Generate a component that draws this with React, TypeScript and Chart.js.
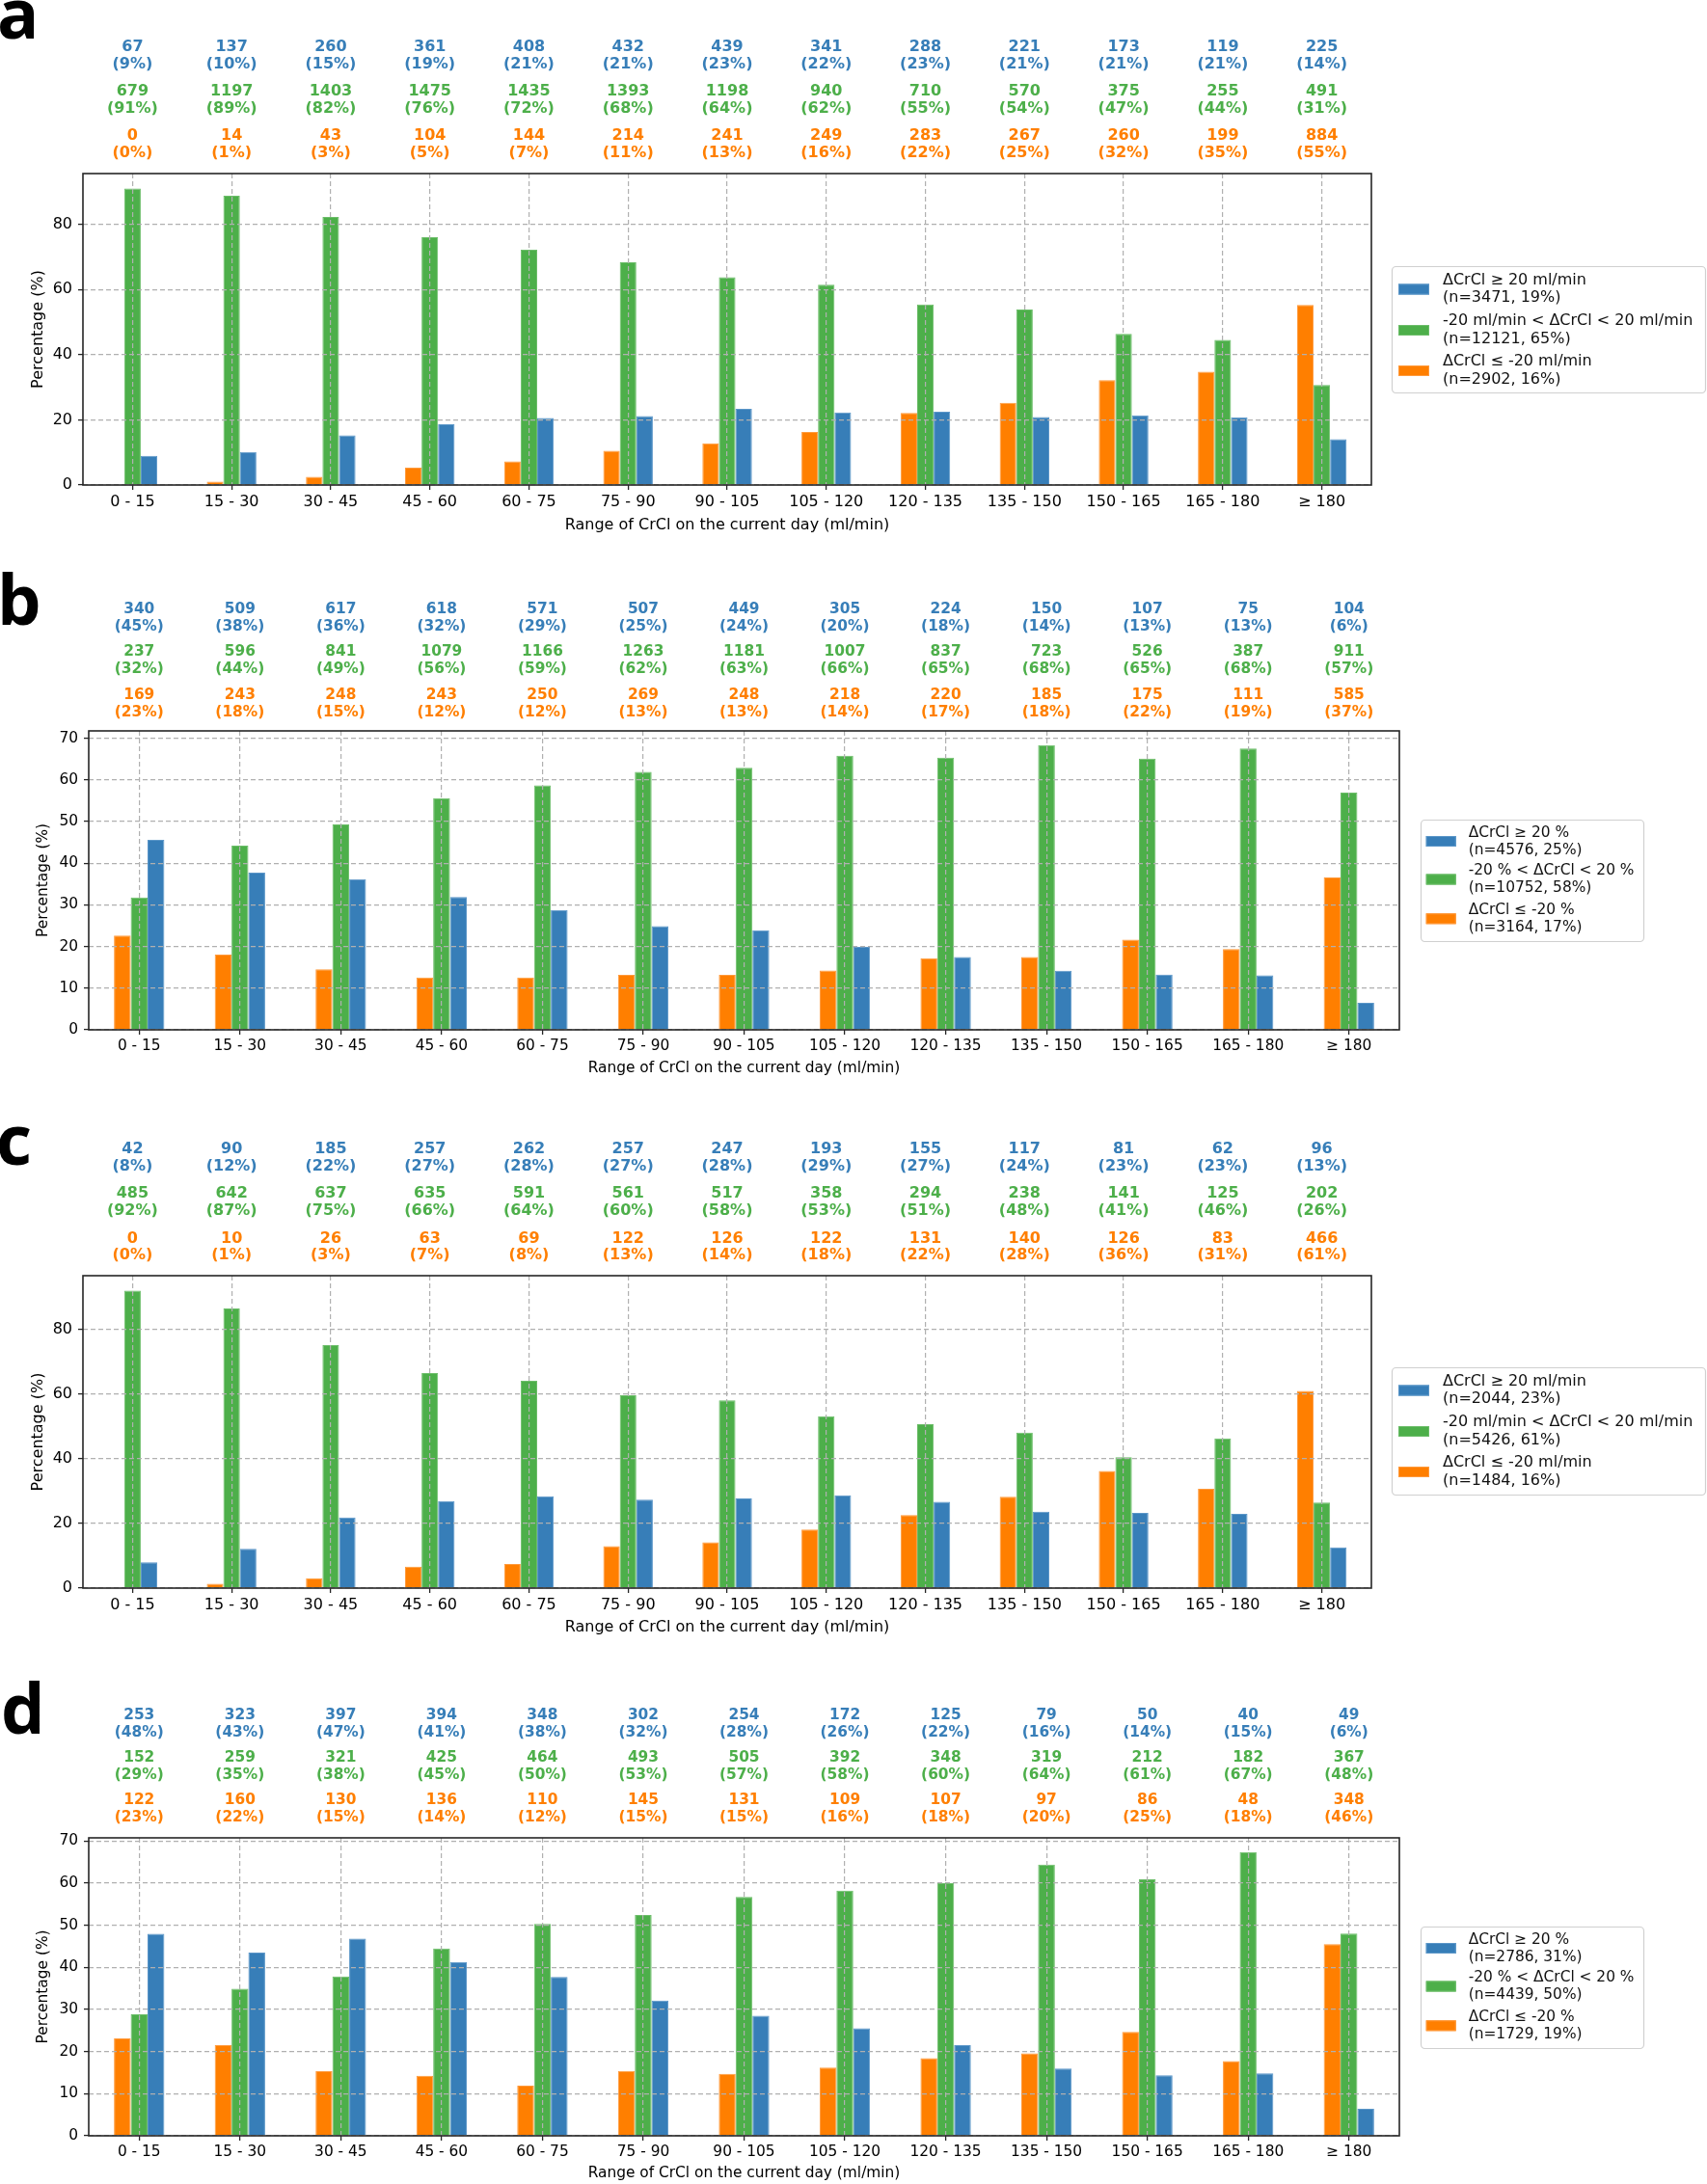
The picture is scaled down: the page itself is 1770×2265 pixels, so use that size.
import React, { useEffect, useRef } from 'react';
import { Chart, registerables } from 'chart.js';

Chart.register(...registerables);
Chart.defaults.font.family = '"DejaVu Sans"';

// ---------------- data ----------------
const categories = ['0 - 15', '15 - 30', '30 - 45', '45 - 60', '60 - 75', '75 - 90', '90 - 105', '105 - 120', '120 - 135', '135 - 150', '150 - 165', '165 - 180', '≥ 180'];

const xAxisTitle = 'Range of CrCl on the current day (ml/min)';
const yAxisTitle = 'Percentage (%)';

// Panel a
const aUpCounts = [67, 137, 260, 361, 408, 432, 439, 341, 288, 221, 173, 119, 225];
const aUpPct = [9, 10, 15, 19, 21, 21, 23, 22, 23, 21, 21, 21, 14];
const aUpValues = [8.98, 10.16, 15.24, 18.61, 20.53, 21.19, 23.38, 22.29, 22.48, 20.89, 21.41, 20.77, 14.06];
const aStableCounts = [679, 1197, 1403, 1475, 1435, 1393, 1198, 940, 710, 570, 375, 255, 491];
const aStablePct = [91, 89, 82, 76, 72, 68, 64, 62, 55, 54, 47, 44, 31];
const aStableValues = [91.02, 88.8, 82.24, 76.03, 72.22, 68.32, 63.79, 61.44, 55.43, 53.88, 46.41, 44.5, 30.69];
const aDownCounts = [0, 14, 43, 104, 144, 214, 241, 249, 283, 267, 260, 199, 884];
const aDownPct = [0, 1, 3, 5, 7, 11, 13, 16, 22, 25, 32, 35, 55];
const aDownValues = [0, 1.04, 2.52, 5.36, 7.25, 10.5, 12.83, 16.27, 22.09, 25.24, 32.18, 34.73, 55.25];
const aLegend = [['ΔCrCl ≥ 20 ml/min', '(n=3471, 19%)'], ['-20 ml/min < ΔCrCl < 20 ml/min', '(n=12121, 65%)'], ['ΔCrCl ≤ -20 ml/min', '(n=2902, 16%)']];
const aYMax = 95.57;
const aYStep = 20;

// Panel b
const bUpCounts = [340, 509, 617, 618, 571, 507, 449, 305, 224, 150, 107, 75, 104];
const bUpPct = [45, 38, 36, 32, 29, 25, 24, 20, 18, 14, 13, 13, 6];
const bUpValues = [45.58, 37.76, 36.17, 31.86, 28.74, 24.87, 23.91, 19.93, 17.49, 14.18, 13.24, 13.09, 6.5];
const bStableCounts = [237, 596, 841, 1079, 1166, 1263, 1181, 1007, 837, 723, 526, 387, 911];
const bStablePct = [32, 44, 49, 56, 59, 62, 63, 66, 65, 68, 65, 68, 57];
const bStableValues = [31.77, 44.21, 49.3, 55.62, 58.68, 61.94, 62.89, 65.82, 65.34, 68.34, 65.1, 67.54, 56.94];
const bDownCounts = [169, 243, 248, 243, 250, 269, 248, 218, 220, 185, 175, 111, 585];
const bDownPct = [23, 18, 15, 12, 12, 13, 13, 14, 17, 18, 22, 19, 37];
const bDownValues = [22.65, 18.03, 14.54, 12.53, 12.58, 13.19, 13.21, 14.25, 17.17, 17.49, 21.66, 19.37, 36.56];
const bLegend = [['ΔCrCl ≥ 20 %', '(n=4576, 25%)'], ['-20 % < ΔCrCl < 20 %', '(n=10752, 58%)'], ['ΔCrCl ≤ -20 %', '(n=3164, 17%)']];
const bYMax = 71.76;
const bYStep = 10;

// Panel c
const cUpCounts = [42, 90, 185, 257, 262, 257, 247, 193, 155, 117, 81, 62, 96];
const cUpPct = [8, 12, 22, 27, 28, 27, 28, 29, 27, 24, 23, 23, 13];
const cUpValues = [7.97, 12.13, 21.82, 26.91, 28.42, 27.34, 27.75, 28.68, 26.72, 23.64, 23.28, 22.96, 12.57];
const cStableCounts = [485, 642, 637, 635, 591, 561, 517, 358, 294, 238, 141, 125, 202];
const cStablePct = [92, 87, 75, 66, 64, 60, 58, 53, 51, 48, 41, 46, 26];
const cStableValues = [92.03, 86.52, 75.12, 66.49, 64.1, 59.68, 58.09, 53.19, 50.69, 48.08, 40.52, 46.3, 26.44];
const cDownCounts = [0, 10, 26, 63, 69, 122, 126, 122, 131, 140, 126, 83, 466];
const cDownPct = [0, 1, 3, 7, 8, 13, 14, 18, 22, 28, 36, 31, 61];
const cDownValues = [0, 1.35, 3.07, 6.6, 7.48, 12.98, 14.16, 18.13, 22.59, 28.28, 36.21, 30.74, 60.99];
const cLegend = [['ΔCrCl ≥ 20 ml/min', '(n=2044, 23%)'], ['-20 ml/min < ΔCrCl < 20 ml/min', '(n=5426, 61%)'], ['ΔCrCl ≤ -20 ml/min', '(n=1484, 16%)']];
const cYMax = 96.63;
const cYStep = 20;

// Panel d
const dUpCounts = [253, 323, 397, 394, 348, 302, 254, 172, 125, 79, 50, 40, 49];
const dUpPct = [48, 43, 47, 41, 38, 32, 28, 26, 22, 16, 14, 15, 6];
const dUpValues = [48.01, 43.53, 46.82, 41.26, 37.74, 32.13, 28.54, 25.56, 21.55, 15.96, 14.37, 14.81, 6.41];
const dStableCounts = [152, 259, 321, 425, 464, 493, 505, 392, 348, 319, 212, 182, 367];
const dStablePct = [29, 35, 38, 45, 50, 53, 57, 58, 60, 64, 61, 67, 48];
const dStableValues = [28.84, 34.91, 37.85, 44.5, 50.33, 52.45, 56.74, 58.25, 60.0, 64.44, 60.92, 67.41, 48.04];
const dDownCounts = [122, 160, 130, 136, 110, 145, 131, 109, 107, 97, 86, 48, 348];
const dDownPct = [23, 22, 15, 14, 12, 15, 15, 16, 18, 20, 25, 18, 46];
const dDownValues = [23.15, 21.56, 15.33, 14.24, 11.93, 15.43, 14.72, 16.2, 18.45, 19.6, 24.71, 17.78, 45.55];
const dLegend = [['ΔCrCl ≥ 20 %', '(n=2786, 31%)'], ['-20 % < ΔCrCl < 20 %', '(n=4439, 50%)'], ['ΔCrCl ≤ -20 %', '(n=1729, 19%)']];
const dYMax = 70.78;
const dYStep = 10;

// ---------------- styles ----------------
const BLUE = '#377eb8';
const GREEN = '#4daf4a';
const ORANGE = '#ff7f00';
const BLUE_EDGE = '#5b96c8';
const GREEN_EDGE = '#6cbd69';
const ORANGE_EDGE = '#ff9a3c';
const GRID = '#b0b0b0';
const FRAME = '#262626';

const legendBig = { w: 325, swX: 7, swW: 32, swH: 11, textX: 53, entries: [24, 66.5, 108.5], half: 9.2 };
const legendSmall = { w: 231, swX: 5.7, swW: 31, swH: 11, textX: 49.7, entries: [22.5, 62, 102.8], half: 9 };

const panels = [
  {
    letter: 'a', top0: 0, height: 560, left: 86, right: 1422, plotTop: 180, plotBottom: 503, titleY: 545,
    rows: [48.7, 66.7, 95, 113.3, 140.7, 159.3], legendBox: { ...legendBig, x: 1443, y: 276, h: 131 },
    letterX: -3, letterBase: 40, fs: 16,
    up: [aUpCounts, aUpPct, aUpValues], stable: [aStableCounts, aStablePct, aStableValues], down: [aDownCounts, aDownPct, aDownValues],
    legend: aLegend, yMax: aYMax, yStep: aYStep,
  },
  {
    letter: 'b', top0: 560, height: 570, left: 92, right: 1451, plotTop: 758, plotBottom: 1068, titleY: 1108,
    rows: [632, 650, 676, 694, 721, 739], legendBox: { ...legendSmall, x: 1473, y: 850, h: 126 },
    letterX: -3, letterBase: 648, fs: 15.4,
    up: [bUpCounts, bUpPct, bUpValues], stable: [bStableCounts, bStablePct, bStableValues], down: [bDownCounts, bDownPct, bDownValues],
    legend: bLegend, yMax: bYMax, yStep: bYStep,
  },
  {
    letter: 'c', top0: 1130, height: 570, left: 86, right: 1422, plotTop: 1323, plotBottom: 1647, titleY: 1688,
    rows: [1192, 1209.5, 1238, 1256, 1284.5, 1302], legendBox: { ...legendBig, x: 1443, y: 1418, h: 132 },
    letterX: -4, letterBase: 1208, fs: 16,
    up: [cUpCounts, cUpPct, cUpValues], stable: [cStableCounts, cStablePct, cStableValues], down: [cDownCounts, cDownPct, cDownValues],
    legend: cLegend, yMax: cYMax, yStep: cYStep,
  },
  {
    letter: 'd', top0: 1700, height: 565, left: 92, right: 1451, plotTop: 1906, plotBottom: 2215, titleY: 2254,
    rows: [1779, 1797, 1823, 1841, 1867, 1885], legendBox: { ...legendSmall, x: 1473, y: 1998, h: 126 },
    letterX: 1, letterBase: 1798, fs: 15.4,
    up: [dUpCounts, dUpPct, dUpValues], stable: [dStableCounts, dStablePct, dStableValues], down: [dDownCounts, dDownPct, dDownValues],
    legend: dLegend, yMax: dYMax, yStep: dYStep,
  },
];

function roundRectPath(ctx: CanvasRenderingContext2D, x: number, y: number, w: number, h: number, r: number) {
  ctx.beginPath();
  ctx.moveTo(x + r, y);
  ctx.lineTo(x + w - r, y);
  ctx.arcTo(x + w, y, x + w, y + r, r);
  ctx.lineTo(x + w, y + h - r);
  ctx.arcTo(x + w, y + h, x + w - r, y + h, r);
  ctx.lineTo(x + r, y + h);
  ctx.arcTo(x, y + h, x, y + h - r, r);
  ctx.lineTo(x, y + r);
  ctx.arcTo(x, y, x + r, y, r);
  ctx.closePath();
}

function makeExtras(cfg: any) {
  return {
    id: 'extras',
    afterDraw(chart: any) {
      const ctx: CanvasRenderingContext2D = chart.ctx;
      const area = chart.chartArea;
      const xs = chart.scales.x;
      const off = cfg.top0;
      ctx.save();
      ctx.setLineDash([]);
      // axes frame
      ctx.strokeStyle = FRAME;
      ctx.lineWidth = 1.6;
      ctx.strokeRect(area.left, area.top, area.right - area.left, area.bottom - area.top);

      // count / percentage annotations above each category
      ctx.font = `bold ${cfg.fs}px "DejaVu Sans"`;
      ctx.textAlign = 'center';
      ctx.textBaseline = 'middle';
      const series = [
        [cfg.up[0], cfg.up[1], BLUE],
        [cfg.stable[0], cfg.stable[1], GREEN],
        [cfg.down[0], cfg.down[1], ORANGE],
      ];
      categories.forEach((_, i) => {
        const x = xs.getPixelForValue(i);
        series.forEach((s: any, k) => {
          ctx.fillStyle = s[2];
          ctx.fillText(String(s[0][i]), x, cfg.rows[2 * k] - off);
          ctx.fillText(`(${s[1][i]}%)`, x, cfg.rows[2 * k + 1] - off);
        });
      });

      // legend
      const L = cfg.legendBox;
      const ly = L.y - off;
      roundRectPath(ctx, L.x + 0.5, ly + 0.5, L.w, L.h, 4);
      ctx.fillStyle = 'rgba(255,255,255,0.85)';
      ctx.fill();
      ctx.strokeStyle = '#d0d0d0';
      ctx.lineWidth = 1.2;
      ctx.stroke();
      const swatch = [[BLUE, BLUE_EDGE], [GREEN, GREEN_EDGE], [ORANGE, ORANGE_EDGE]];
      ctx.font = `${cfg.fs}px "DejaVu Sans"`;
      ctx.textAlign = 'left';
      ctx.textBaseline = 'middle';
      L.entries.forEach((cy: number, k: number) => {
        const yc = ly + cy;
        ctx.fillStyle = swatch[k][0];
        ctx.fillRect(L.x + L.swX, yc - L.swH / 2, L.swW, L.swH);
        ctx.strokeStyle = swatch[k][1];
        ctx.lineWidth = 1;
        ctx.strokeRect(L.x + L.swX + 0.5, yc - L.swH / 2 + 0.5, L.swW - 1, L.swH - 1);
        ctx.fillStyle = '#111';
        ctx.fillText(cfg.legend[k][0], L.x + L.textX, yc - L.half);
        ctx.fillText(cfg.legend[k][1], L.x + L.textX, yc + L.half);
      });

      // panel letter
      ctx.fillStyle = '#000';
      ctx.font = 'bold 72px "Open Sans"';
      ctx.textAlign = 'left';
      ctx.textBaseline = 'alphabetic';
      ctx.fillText(cfg.letter, cfg.letterX, cfg.letterBase - off);
      ctx.restore();
    },
  };
}

function Panel({ cfg }: { cfg: any }) {
  const ref = useRef<HTMLCanvasElement>(null);
  useEffect(() => {
    const canvas = ref.current;
    if (!canvas) return;
    const fs = cfg.fs;
    const lh = fs * 1.2;
    const yW = 56;
    const xH = cfg.titleY - cfg.plotBottom + lh / 2;
    const font = { family: '"DejaVu Sans"', size: fs };
    const chart = new Chart(canvas, {
      type: 'bar',
      data: {
        labels: categories,
        datasets: [
          { label: cfg.legend[2][0], data: cfg.down[2], backgroundColor: ORANGE, borderColor: ORANGE_EDGE, borderWidth: 1 },
          { label: cfg.legend[1][0], data: cfg.stable[2], backgroundColor: GREEN, borderColor: GREEN_EDGE, borderWidth: 1 },
          { label: cfg.legend[0][0], data: cfg.up[2], backgroundColor: BLUE, borderColor: BLUE_EDGE, borderWidth: 1 },
        ],
      },
      options: {
        animation: false,
        responsive: false,
        maintainAspectRatio: false,
        devicePixelRatio: 1,
        layout: {
          padding: {
            left: cfg.left - yW,
            right: 1770 - cfg.right,
            top: cfg.plotTop - cfg.top0,
            bottom: cfg.top0 + cfg.height - cfg.plotBottom - xH,
          },
        },
        plugins: { legend: { display: false }, tooltip: { enabled: false } },
        datasets: { bar: { categoryPercentage: 0.5, barPercentage: 1.0 } },
        scales: {
          x: {
            type: 'category',
            offset: true,
            grid: {
              offset: false, color: GRID, lineWidth: 1.2, z: 1,
              drawTicks: true, tickLength: 5, tickColor: FRAME, tickWidth: 1.3, tickBorderDash: [],
            },
            border: { display: false, dash: [5, 3] },
            ticks: { autoSkip: false, maxRotation: 0, minRotation: 0, padding: 3, color: '#000', font },
            title: { display: true, text: xAxisTitle, color: '#000', font, padding: 0 },
            afterFit: (s: any) => { s.height = xH; },
          },
          y: {
            min: 0,
            max: cfg.yMax,
            grid: {
              color: GRID, lineWidth: 1.2, z: 1,
              drawTicks: true, tickLength: 5, tickColor: FRAME, tickWidth: 1.3, tickBorderDash: [],
            },
            border: { display: false, dash: [5, 3] },
            ticks: { stepSize: cfg.yStep, includeBounds: false, padding: 6, color: '#000', font },
            title: { display: true, text: yAxisTitle, color: '#000', font, padding: 0 },
            afterFit: (s: any) => { s.width = yW; },
          },
        },
      },
      plugins: [makeExtras(cfg)],
    } as any);
    return () => chart.destroy();
  }, [cfg]);
  return (
    <canvas
      ref={ref}
      width={1770}
      height={cfg.height}
      style={{ position: 'absolute', left: 0, top: cfg.top0, width: 1770, height: cfg.height, display: 'block' }}
    />
  );
}

export default function App() {
  return (
    <div style={{ position: 'absolute', left: 0, top: 0, width: 1770, height: 2265, background: '#ffffff', overflow: 'hidden' }}>
      {panels.map((p) => (
        <Panel key={p.letter} cfg={p} />
      ))}
    </div>
  );
}
